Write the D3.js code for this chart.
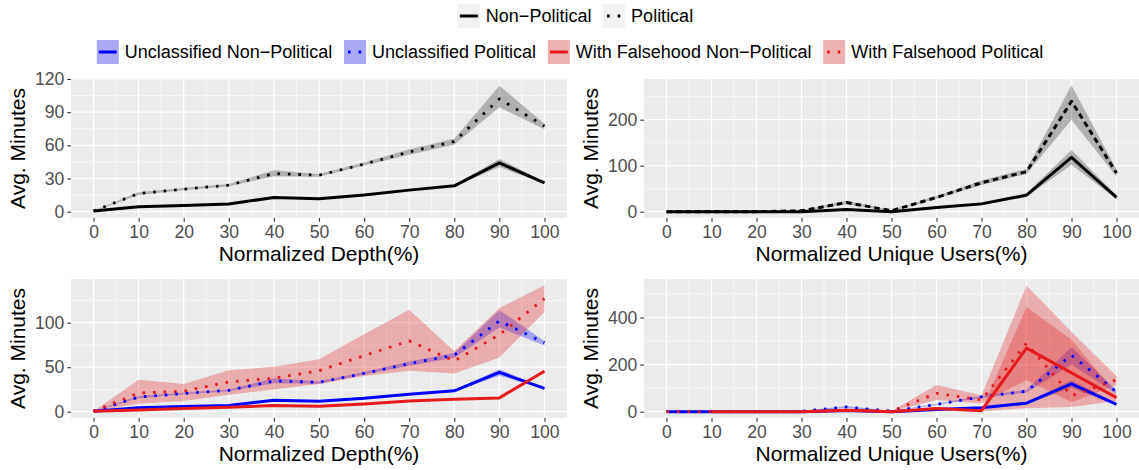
<!DOCTYPE html>
<html><head><meta charset="utf-8">
<script src="https://cdn.jsdelivr.net/npm/d3@7"></script>
<style>body{margin:0;background:#fff}text{font-family:"Liberation Sans",Arial,sans-serif}</style>
</head><body>
<svg id="c" width="1139" height="470"></svg>
<script>
// ---------- data ----------
const xVals = [0,10,20,30,40,50,60,70,80,90,100];
const xTickLabels = ["0","10","20","30","40","50","60","70","80","90","100"];

// Normalized depth – Non-Political / Political (Unclassified)
const depthNonPol   = [0.6,4.5,5.7,6.9,12.9,11.7,15,19.5,23.4,44.1,26.1];
const depthNonPolLo = [0.3,4.0,5.2,6.4,12.2,11.0,14.4,18.9,22.7,40.5,25.2];
const depthNonPolHi = [0.9,5.0,6.2,7.4,13.6,12.4,15.6,20.1,24.1,47.7,27.0];
const depthPol      = [0.6,16.5,20.4,24,34.5,33,43,54,63.5,102,77.4];
const depthPolLo    = [0.3,15.2,19.5,23,32,31.5,41.7,51.5,60.5,94.5,74.5];
const depthPolHi    = [0.9,17.6,21.4,25,37.5,34.2,44.5,56.5,66,114,79.5];

// Normalized depth – With Falsehood
const wfDepthNonPol   = [0.5,2,3.5,5,7,6,8.5,12,14,15.5,45.5];
const wfDepthNonPolLo = [0.3,1.5,3,4.5,6.3,5.4,7.8,11.2,13.2,14.6,44];
const wfDepthNonPolHi = [0.7,2.5,4,5.5,7.7,6.6,9.2,12.8,14.8,16.4,47];
const wfDepthPol      = [0.5,21,23,33.5,37.5,46,63,79.5,57,86.5,127];
const wfDepthPolLo    = [0.5,9,12,19,25,31,40,46,43,61,112];
const wfDepthPolHi    = [0.5,36,31,46.5,50.5,59,87,114.5,68,116.5,142];

// Normalized unique users – Non-Political / Political (Unclassified)
const uuNonPol   = [0,0,0,0,5,0,9,17,36,118,31];
const uuNonPolLo = [0,0,0,0,3,0,7,14,32,102,27];
const uuNonPolHi = [0,0,0,0,7,0,11,20,40,134,35];
const uuPol      = [0,0,0,2,20,2,31,63,87,240,84];
const uuPolLo    = [0,0,0,1,16,1,28,58,82,200,76];
const uuPolHi    = [0,0,0,3,24,3,34,68,93,275,91];

// Normalized unique users – With Falsehood
const wfUuNonPol   = [null,0,0,0,6,0,14,4,270,165,60];
const wfUuNonPolLo = [null,0,0,0,3,0,10,2,15,20,45];
const wfUuNonPolHi = [null,0,0,0,9,0,20,8,445,305,75];
const wfUuPol      = [0,0,0,0,5,2,78,50,290,68,135];
const wfUuPolLo    = [0,0,0,0,3,1,50,35,135,40,112];
const wfUuPolHi    = [0,0,0,0,8,3,113,70,535,340,150];

const topLegend = ["Non\u2212Political","Political"];
const bottomLegend = ["Unclassified Non\u2212Political","Unclassified Political","With Falsehood Non\u2212Political","With Falsehood Political"];

// ---------- drawing ----------
const svg = d3.select("#c");
const BLUE = "#0000ff", RED = "#e41a1c", BLACK = "#000000";
const DOT = "2.6,7.9";

function rows(lo, hi){ return xVals.map((x,i)=>({x, lo:lo[i], hi:hi[i]})).filter(d=>d.lo!=null); }
function pts(v){ return xVals.map((x,i)=>({x, y:v[i]})).filter(d=>d.y!=null); }

function panel(cfg){
  const {left,right,top,bottom,yDomain,yTicks,yMinor,xTitle,series} = cfg;
  const x = d3.scaleLinear().domain([-5,105]).range([left,right]);
  const y = d3.scaleLinear().domain(yDomain).range([bottom,top]);
  const g = svg.append("g");
  g.append("rect").attr("x",left).attr("y",top).attr("width",right-left).attr("height",bottom-top).attr("fill","#ebebeb");
  const xMinor = d3.range(5,100,10);
  g.selectAll(".xm").data(xMinor).join("line").attr("x1",d=>x(d)).attr("x2",d=>x(d)).attr("y1",top).attr("y2",bottom).attr("stroke","#fff").attr("stroke-width",0.6);
  g.selectAll(".ym").data(yMinor).join("line").attr("y1",d=>y(d)).attr("y2",d=>y(d)).attr("x1",left).attr("x2",right).attr("stroke","#fff").attr("stroke-width",0.6);
  g.selectAll(".xM").data(xVals).join("line").attr("x1",d=>x(d)).attr("x2",d=>x(d)).attr("y1",top).attr("y2",bottom).attr("stroke","#fff").attr("stroke-width",1.2);
  g.selectAll(".yM").data(yTicks).join("line").attr("y1",d=>y(d)).attr("y2",d=>y(d)).attr("x1",left).attr("x2",right).attr("stroke","#fff").attr("stroke-width",1.2);

  // axes
  const xa = g.append("g").attr("transform",`translate(0,${bottom})`)
    .call(d3.axisBottom(x).tickValues(xVals).tickFormat((d,i)=>xTickLabels[i]).tickSize(3.7).tickPadding(4));
  const ya = g.append("g").attr("transform",`translate(${left},0)`)
    .call(d3.axisLeft(y).tickValues(yTicks).tickSize(3.7).tickPadding(3));
  [xa,ya].forEach(a=>{
    a.select(".domain").remove();
    a.selectAll("line").attr("stroke","#333").attr("stroke-width",1.1);
    a.selectAll("text").attr("fill","#4d4d4d").style("font-size","17.6px").style("font-family",'"Liberation Sans",Arial,sans-serif');
  });

  g.append("text").attr("x",(left+right)/2).attr("y",bottom+43).attr("text-anchor","middle")
    .style("font-size","21px").attr("fill","#000").text(xTitle);
  g.append("text").attr("transform",`translate(${left-46},${(top+bottom)/2}) rotate(-90)`).attr("text-anchor","middle")
    .style("font-size","21px").attr("fill","#000").text("Avg. Minutes");

  const clip = "clip"+Math.round(left)+"_"+Math.round(top);
  svg.append("clipPath").attr("id",clip).append("rect").attr("x",left).attr("y",top).attr("width",right-left).attr("height",bottom-top);
  const pg = g.append("g").attr("clip-path",`url(#${clip})`);
  const area = d3.area().x(d=>x(d.x)).y0(d=>y(d.lo)).y1(d=>y(d.hi));
  const line = d3.line().x(d=>x(d.x)).y(d=>y(d.y));
  series.forEach(s=>{
    pg.append("path").datum(rows(s.lo,s.hi)).attr("d",area).attr("fill",s.fill).attr("fill-opacity",s.alpha);
  });
  series.forEach(s=>{
    pg.append("path").datum(pts(s.v)).attr("d",line).attr("fill","none").attr("stroke",s.color)
      .attr("stroke-width",s.w).attr("stroke-dasharray",s.dash||null).attr("stroke-linejoin","round");
  });
}

const L1=71, R1=567, L2=644, R2=1139;
panel({left:L1,right:R1,top:79,bottom:218,yDomain:[-5.7,120],yTicks:[0,30,60,90,120],yMinor:[15,45,75,105],
  xTitle:"Normalized Depth(%)",
  series:[
    {v:depthNonPol,lo:depthNonPolLo,hi:depthNonPolHi,color:BLACK,fill:"#000",alpha:0.25,w:3},
    {v:depthPol,lo:depthPolLo,hi:depthPolHi,color:BLACK,fill:"#000",alpha:0.25,w:2.8,dash:DOT}
  ]});
panel({left:L2,right:R2,top:79,bottom:218,yDomain:[-13.7,288.5],yTicks:[0,100,200],yMinor:[50,150,250],
  xTitle:"Normalized Unique Users(%)",
  series:[
    {v:uuNonPol,lo:uuNonPolLo,hi:uuNonPolHi,color:BLACK,fill:"#000",alpha:0.25,w:3},
    {v:uuPol,lo:uuPolLo,hi:uuPolHi,color:BLACK,fill:"#000",alpha:0.25,w:3,dash:"5.5,4"}
  ]});
panel({left:L1,right:R1,top:279,bottom:418,yDomain:[-7.1,149.1],yTicks:[0,50,100],yMinor:[25,75,125],
  xTitle:"Normalized Depth(%)",
  series:[
    {v:depthNonPol,lo:depthNonPolLo,hi:depthNonPolHi,color:BLUE,fill:BLUE,alpha:0.3,w:3},
    {v:depthPol,lo:depthPolLo,hi:depthPolHi,color:BLUE,fill:BLUE,alpha:0.3,w:2.8,dash:DOT},
    {v:wfDepthNonPol,lo:wfDepthNonPolLo,hi:wfDepthNonPolHi,color:RED,fill:RED,alpha:0.3,w:3},
    {v:wfDepthPol,lo:wfDepthPolLo,hi:wfDepthPolHi,color:RED,fill:RED,alpha:0.3,w:2.8,dash:DOT}
  ]});
panel({left:L2,right:R2,top:279,bottom:418,yDomain:[-26.8,563.5],yTicks:[0,200,400],yMinor:[100,300,500],
  xTitle:"Normalized Unique Users(%)",
  series:[
    {v:uuNonPol,lo:uuNonPolLo,hi:uuNonPolHi,color:BLUE,fill:BLUE,alpha:0.3,w:3},
    {v:uuPol,lo:uuPolLo,hi:uuPolHi,color:BLUE,fill:BLUE,alpha:0.3,w:2.8,dash:DOT},
    {v:wfUuNonPol,lo:wfUuNonPolLo,hi:wfUuNonPolHi,color:RED,fill:RED,alpha:0.3,w:3},
    {v:wfUuPol,lo:wfUuPolLo,hi:wfUuPolHi,color:RED,fill:RED,alpha:0.3,w:2.8,dash:DOT}
  ]});

// ---------- legends ----------
function legend(items, cy, fontSize, cx){
  const keyW=22, keyH=24, gapKT=6, gapItem=11.7;
  const g = svg.append("g");
  const tmp = g.append("text").style("font-size",fontSize+"px");
  const widths = items.map(it=>{ tmp.text(it.label); return tmp.node().getComputedTextLength(); });
  tmp.remove();
  const total = d3.sum(widths) + items.length*(keyW+gapKT) + (items.length-1)*gapItem;
  let xPos = cx - total/2;
  items.forEach((it,i)=>{
    g.append("rect").attr("x",xPos).attr("y",cy-keyH/2).attr("width",keyW).attr("height",keyH).attr("fill","#f2f2f2");
    if(it.fill) g.append("rect").attr("x",xPos).attr("y",cy-keyH/2).attr("width",keyW).attr("height",keyH).attr("fill",it.fill).attr("fill-opacity",0.3);
    g.append("line").attr("x1",xPos+2).attr("x2",xPos+keyW-2).attr("y1",cy).attr("y2",cy)
      .attr("stroke",it.color).attr("stroke-width",3).attr("stroke-dasharray",it.dash?"2.6,7.9":null)
      .attr("stroke-dashoffset",it.dash?-2:0);
    g.append("text").attr("x",xPos+keyW+gapKT).attr("y",cy+6.3).style("font-size",fontSize+"px").attr("fill","#000").text(it.label);
    xPos += keyW+gapKT+widths[i]+gapItem;
  });
}
legend([{label:topLegend[0],color:BLACK},{label:topLegend[1],color:BLACK,dash:true}],16,18,575.5);
legend([{label:bottomLegend[0],color:BLUE,fill:BLUE},{label:bottomLegend[1],color:BLUE,fill:BLUE,dash:true},
        {label:bottomLegend[2],color:RED,fill:RED},{label:bottomLegend[3],color:RED,fill:RED,dash:true}],52,18,570);
</script>
</body></html>
